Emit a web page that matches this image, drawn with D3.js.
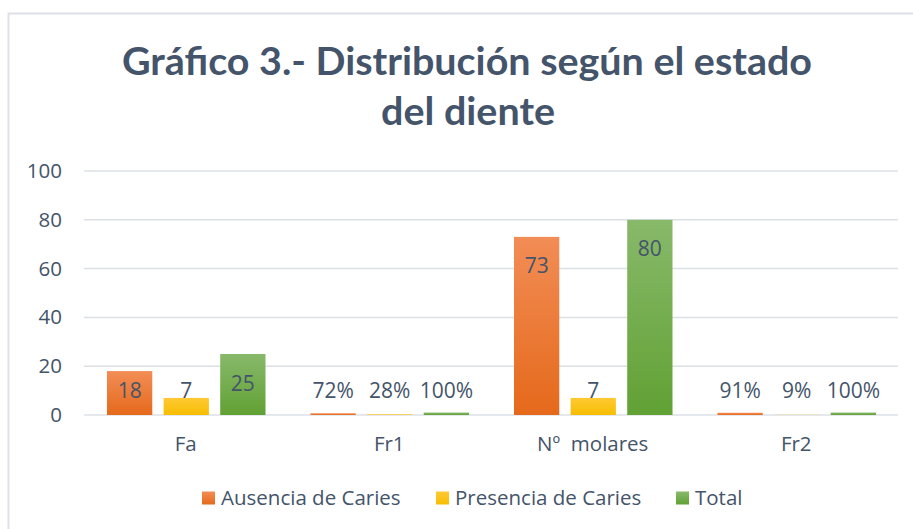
<!DOCTYPE html>
<html>
<head>
<meta charset="utf-8">
<script src="https://cdn.jsdelivr.net/npm/d3@7"></script>
<style>
  html, body { margin: 0; padding: 0; background: #fff; }
  svg { display: block; font-family: "Open Sans", sans-serif; }
</style>
</head>
<body>
<svg id="chart" width="913" height="529"></svg>
<script>
// datos
const categories = ["Fa", "Fr1", "Nº  molares", "Fr2"];
const seriesNames = ["Ausencia de Caries", "Presencia de Caries", "Total"];
const ausencia = [18, 0.72, 73, 0.91];
const presencia = [7, 0.28, 7, 0.09];
const total = [25, 1, 80, 1];
const percentRows = ["Fr1", "Fr2"];
const yTicks = [0, 20, 40, 60, 80, 100];

const TEXT = "#44546A";
const colors = [
  ["#F28D56", "#E5691B"],
  ["#FFC935", "#F7BE00"],
  ["#88B96A", "#61A134"]
];

const svg = d3.select("#chart");
const W = 913, H = 529;

// marco del gráfico
svg.append("rect")
  .attr("x", 8.5).attr("y", 13.5)
  .attr("width", W).attr("height", H)
  .attr("fill", "#fff").attr("stroke", "#DDE1E7").attr("stroke-width", 2);

// gradientes verticales
const defs = svg.append("defs");
colors.forEach((c, i) => {
  const g = defs.append("linearGradient").attr("id", "grad" + i)
    .attr("x1", 0).attr("y1", 0).attr("x2", 0).attr("y2", 1);
  g.append("stop").attr("offset", "0%").attr("stop-color", c[0]);
  g.append("stop").attr("offset", "100%").attr("stop-color", c[1]);
});

// título
const title = svg.append("text")
  .attr("text-anchor", "middle")
  .attr("fill", TEXT)
  .style("font-family", "Lato, sans-serif")
  .style("font-weight", "bold")
  .style("font-size", "39px");
title.append("tspan").attr("x", 467).attr("y", 75)
  .attr("textLength", 690).attr("lengthAdjust", "spacingAndGlyphs")
  .text("Gráfico 3.- Distribución según el estado");
title.append("tspan").attr("x", 468).attr("y", 125)
  .attr("textLength", 174).attr("lengthAdjust", "spacingAndGlyphs")
  .text("del diente");

// escalas
const plot = { left: 84, right: 898, top: 171, bottom: 415 };
const y = d3.scaleLinear().domain([0, 100]).range([plot.bottom, plot.top]);
const x0 = d3.scaleBand().domain(categories).range([plot.left, plot.right]);
const x1 = d3.scaleBand().domain(seriesNames).range([23, x0.bandwidth() - 22]).paddingInner(0.2);

// líneas de división
svg.append("g")
  .selectAll("line")
  .data(yTicks)
  .join("line")
  .attr("x1", plot.left).attr("x2", plot.right)
  .attr("y1", d => y(d)).attr("y2", d => y(d))
  .attr("stroke", "#DCE0E6").attr("stroke-width", 1.5);

// eje y
const yAxis = svg.append("g")
  .attr("transform", `translate(${plot.left - 22},0)`)
  .call(d3.axisLeft(y).tickValues(yTicks).tickSize(0).tickPadding(0));
yAxis.select(".domain").remove();
yAxis.selectAll("text")
  .attr("fill", TEXT)
  .style("font-size", "20.5px")
  .style("font-family", "'Open Sans', sans-serif");

// eje x
const xAxis = svg.append("g")
  .attr("transform", `translate(0,${plot.bottom + 21})`)
  .call(d3.axisBottom(x0).tickSize(0).tickPadding(0));
xAxis.select(".domain").remove();
xAxis.selectAll("text")
  .attr("fill", TEXT)
  .attr("dy", "0.71em")
  .style("font-size", "20.5px")
  .style("font-family", "'Open Sans', sans-serif")
  .style("white-space", "pre")
  .attr("xml:space", "preserve");

// datos por categoría
const rows = categories.map((c, i) => ({
  name: c,
  values: [ausencia[i], presencia[i], total[i]].map((v, j) => ({ serie: seriesNames[j], idx: j, v, cat: c }))
}));

const fmtPct = d3.format(".0%");
const label = d => percentRows.includes(d.cat) ? fmtPct(d.v) : d3.format("d")(d.v);

const groups = svg.append("g")
  .selectAll("g")
  .data(rows)
  .join("g")
  .attr("transform", d => `translate(${x0(d.name)},0)`);

groups.selectAll("rect")
  .data(d => d.values)
  .join("rect")
  .attr("x", d => x1(d.serie))
  .attr("y", d => y(d.v))
  .attr("width", x1.bandwidth())
  .attr("height", d => y(0) - y(d.v))
  .attr("fill", d => `url(#grad${d.idx})`);

// etiquetas de datos (extremo interno, limitadas encima del eje)
groups.selectAll("text")
  .data(d => d.values)
  .join("text")
  .attr("x", d => x1(d.serie) + x1.bandwidth() / 2)
  .attr("y", d => Math.min(y(d.v) + 29, y(0) - 25))
  .attr("dy", "0.36em")
  .attr("text-anchor", "middle")
  .attr("fill", TEXT)
  .style("font-size", "21px")
  .text(label);

// leyenda
const legendX = [202, 436, 676];
const legend = svg.append("g")
  .selectAll("g")
  .data(seriesNames)
  .join("g")
  .attr("transform", (d, i) => `translate(${legendX[i]},498)`);
legend.append("rect")
  .attr("x", 0).attr("y", -6.5)
  .attr("width", 13).attr("height", 13)
  .attr("fill", (d, i) => `url(#grad${i})`);
legend.append("text")
  .attr("x", 19).attr("y", 0).attr("dy", "0.36em")
  .attr("fill", TEXT)
  .style("font-size", "20.5px")
  .text(d => d);
</script>
</body>
</html>
